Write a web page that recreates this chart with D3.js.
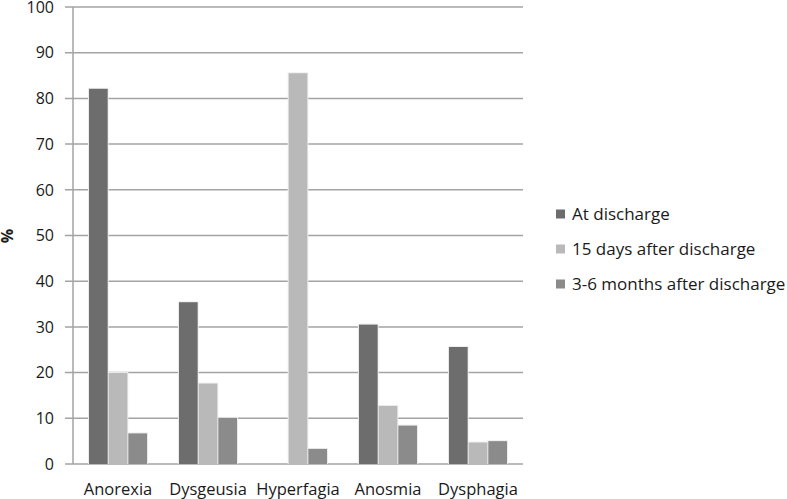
<!DOCTYPE html>
<html>
<head>
<meta charset="utf-8">
<script src="https://cdn.jsdelivr.net/npm/d3@7"></script>
<style>
  body { margin: 0; background: #fff; }
  text { font-family: "Open Sans", "Noto Sans", sans-serif; fill: #1a1a1a; }
</style>
</head>
<body>
<div id="chart"></div>
<script>
const categories = ["Anorexia", "Dysgeusia", "Hyperfagia", "Anosmia", "Dysphagia"];
const seriesNames = ["At discharge", "15 days after discharge", "3-6 months after discharge"];
const atDischarge = [82.1, 35.4, 0, 30.5, 25.6];
const days15 = [19.9, 17.6, 85.5, 12.7, 4.7];
const months3to6 = [6.7, 10.1, 3.3, 8.4, 5.0];
const yTicks = [0, 10, 20, 30, 40, 50, 60, 70, 80, 90, 100];
const seriesColors = ["#6d6d6d", "#b9b9b9", "#8b8b8b"];

const width = 787, height = 499;
const margin = { top: 7, right: 264, bottom: 35, left: 73 };
const innerWidth = width - margin.left - margin.right;
const innerHeight = height - margin.top - margin.bottom;

const svg = d3.select("#chart").append("svg")
    .attr("width", width)
    .attr("height", height);

const chart = svg.append("g")
    .attr("transform", `translate(${margin.left}, ${margin.top})`);

const seriesValues = [atDischarge, days15, months3to6];
const rows = categories.map((c, i) => ({
    cat: c,
    values: seriesNames.map((s, j) => ({ key: s, value: seriesValues[j][i] }))
}));

// scales
const x0 = d3.scaleBand()
    .domain(categories)
    .range([0, innerWidth])
    .paddingInner(0.333)
    .paddingOuter(0.1667);

const x1 = d3.scaleBand()
    .domain(seriesNames)
    .range([0, x0.bandwidth()])
    .padding(0.05);

const y = d3.scaleLinear()
    .domain([0, 100])
    .range([innerHeight, 0]);

const color = d3.scaleOrdinal()
    .domain(seriesNames)
    .range(seriesColors);

// gridlines + tick marks
chart.append("g")
    .selectAll("line")
    .data(yTicks)
    .enter()
    .append("line")
    .attr("x1", -8)
    .attr("x2", innerWidth)
    .attr("y1", d => y(d))
    .attr("y2", d => y(d))
    .attr("stroke", "#a3a3a3")
    .attr("stroke-width", 1.5);

// y axis line
chart.append("line")
    .attr("x1", 0).attr("x2", 0)
    .attr("y1", y(100)).attr("y2", y(0))
    .attr("stroke", "#a3a3a3")
    .attr("stroke-width", 1.5);

// y tick labels
chart.append("g")
    .selectAll("text")
    .data(yTicks)
    .enter()
    .append("text")
    .attr("x", -19)
    .attr("y", d => y(d))
    .attr("dy", "0.36em")
    .attr("text-anchor", "end")
    .style("font-size", "16px")
    .text(d => d);

// bars
const groups = chart.selectAll("g.group")
    .data(rows)
    .enter()
    .append("g")
    .attr("class", "group")
    .attr("transform", d => `translate(${x0(d.cat)}, 0)`);

groups.selectAll("rect.shadow")
    .data(d => d.values.filter(v => v.value > 0))
    .enter()
    .append("rect")
    .attr("class", "shadow")
    .attr("x", d => x1(d.key) - 1)
    .attr("y", d => y(d.value) - 1)
    .attr("width", x1.bandwidth() + 2)
    .attr("height", d => y(0) - y(d.value) + 1)
    .attr("fill", "#eeeeee");

groups.selectAll("rect.bar")
    .data(d => d.values)
    .enter()
    .append("rect")
    .attr("class", "bar")
    .attr("x", d => x1(d.key))
    .attr("y", d => y(d.value))
    .attr("width", x1.bandwidth())
    .attr("height", d => y(0) - y(d.value))
    .attr("fill", d => color(d.key));

// x labels
chart.append("g")
    .selectAll("text")
    .data(categories)
    .enter()
    .append("text")
    .attr("x", d => x0(d) + x0.bandwidth() / 2)
    .attr("y", innerHeight + 31)
    .attr("text-anchor", "middle")
    .style("font-size", "16.5px")
    .text(d => d);

// y label
svg.append("text")
    .attr("transform", "rotate(-90)")
    .attr("x", -236)
    .attr("y", 13)
    .attr("text-anchor", "middle")
    .style("font-size", "16px")
    .style("font-weight", "bold")
    .text("%");

// legend
const legend = svg.append("g")
    .attr("transform", "translate(556, 214)");

seriesNames.forEach((name, i) => {
    const g = legend.append("g")
        .attr("transform", `translate(0, ${i * 35})`);
    g.append("rect")
        .attr("x", 0)
        .attr("y", -4.5)
        .attr("width", 9)
        .attr("height", 9)
        .attr("fill", color(name));
    g.append("text")
        .attr("x", 16)
        .attr("y", 0)
        .attr("dy", "0.36em")
        .style("font-size", "17px")
        .text(name);
});
</script>
</body>
</html>
